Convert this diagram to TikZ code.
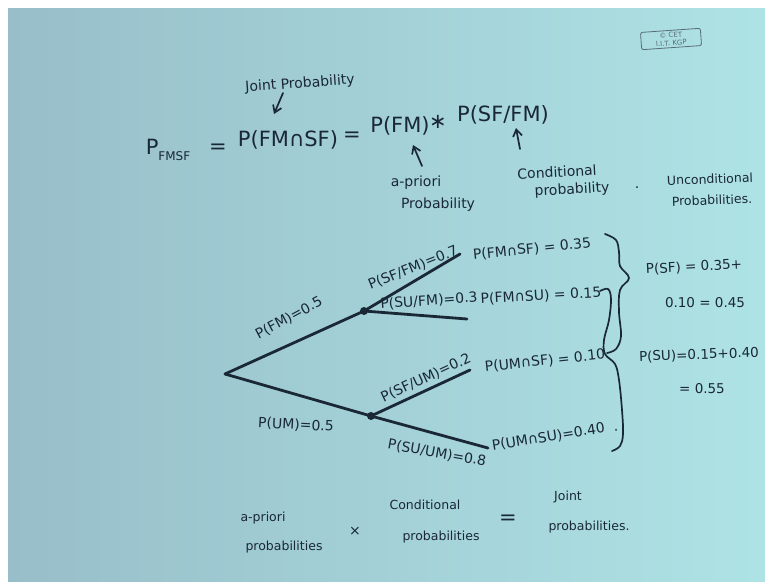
\documentclass[tikz,border=0pt]{standalone}
\usepackage{fontspec}
\setmainfont{DejaVu Sans}
\usetikzlibrary{arrows.meta,positioning}
\definecolor{ink}{RGB}{26,40,54}
\definecolor{boardl}{RGB}{152,190,201}
\definecolor{boardr}{RGB}{174,227,229}
\definecolor{stampgray}{RGB}{88,108,118}
\tikzset{
  >={Straight Barb[length=2.4mm,width=3.2mm]},
  eqn/.style={text=ink,font=\fontsize{21}{23}\selectfont,inner sep=1pt},
  blbl/.style={text=ink,font=\fontsize{14}{15}\selectfont,inner sep=1pt},
  sumlbl/.style={text=ink,font=\fontsize{13.5}{15}\selectfont,inner sep=1pt},
  note/.style={text=ink,font=\fontsize{14}{15}\selectfont,inner sep=1pt},
  smallnote/.style={text=ink,font=\fontsize{12.5}{14}\selectfont,inner sep=1pt},
  branch/.style={draw=ink,line width=2.8pt,line cap=round,line join=round},
  jdot/.style={circle,fill=ink,minimum size=8pt,inner sep=0pt},
  pen/.style={draw=ink,line width=1.7pt,line cap=round,line join=round},
  ptr/.style={pen,->},
  stamp/.style={draw=stampgray,rounded corners=2pt,line width=0.8pt,
    text=stampgray,font=\fontsize{7}{8}\selectfont,align=center,
    inner sep=2pt,minimum width=60pt},
}

\begin{document}
\begin{tikzpicture}[x=1pt,y=-1pt]
  % board
  \useasboundingbox (0,0) rectangle (765,581);
  \fill[white] (0,0) rectangle (765,581);
  \fill[left color=boardl,right color=boardr] (8,8) rectangle (765,581);
  \node[stamp,rotate=4] (cet) at (671,39) {\copyright\ CET\\I.I.T. KGP};

  % equation on top
  \node[note,rotate=4] (jnt) at (300,84) {Joint Probability};
  \node[eqn] (pfmsf) at (168,150) {P\raisebox{-6pt}{\fontsize{12}{12}\selectfont FMSF}};
  \node[eqn] (eqa) at (218,149) {=};
  \node[eqn] (pjoint) at (288,140) {P(FM∩SF)};
  \node[eqn] (eqb) at (352,137) {=};
  \node[eqn] (papr) at (400,126) {P(FM)};
  \node[eqn] (star) at (438,122) {∗};
  \node[eqn] (pcond) at (503,115) {P(SF/FM)};
  \coordinate (jtail) at (283,93);
  \coordinate (jtip) at (274,114);
  \draw[ptr] (jtail) -- (jtip);

  \node[note] (apa) at (416,183) {a-priori};
  \node[note] (apb) at (438,205) {Probability};
  \coordinate (aptail) at (422,166);
  \coordinate (aptip) at (413,145);
  \draw[ptr] (aptail) -- (aptip);

  \node[note,rotate=3] (cda) at (557,172) {Conditional};
  \node[note,rotate=3] (cdb) at (572,190) {probability};
  \node[note] (cdot) at (637,188) {.};
  \coordinate (cdtail) at (520,149);
  \coordinate (cdtip) at (516,128);
  \draw[ptr] (cdtail) -- (cdtip);

  \node[smallnote,rotate=2] (unca) at (710,179) {Unconditional};
  \node[smallnote,rotate=2] (uncb) at (712,200) {Probabilities.};

  % tree
  \coordinate (root) at (225,374);
  \node[jdot] (fm) at (364,311) {};
  \node[jdot] (um) at (371,416) {};
  \coordinate (fmsf) at (460,254);
  \coordinate (fmsu) at (467,319);
  \coordinate (umsf) at (470,370);
  \coordinate (umsu) at (488,448);
  \draw[branch] (root) -- (fm.center) -- (fmsf);
  \draw[branch] (fm.center) -- (fmsu);
  \draw[branch] (root) -- (um.center) -- (umsu);
  \draw[branch] (um.center) -- (umsf);

  \node[blbl,rotate=28] (lfm) at (289,318) {P(FM)=0.5};
  \node[blbl,rotate=22] (lsffm) at (413,268) {P(SF/FM)=0.7};
  \node[blbl,rotate=4] (lsufm) at (429,301) {P(SU/FM)=0.3};
  \node[blbl,rotate=25] (lsfum) at (426,378) {P(SF/UM)=0.2};
  \node[blbl,rotate=-3] (lum) at (296,425) {P(UM)=0.5};
  \node[blbl,rotate=-10] (lsuum) at (437,453) {P(SU/UM)=0.8};

  \node[blbl,rotate=6] (jfmsf) at (532,249) {P(FM∩SF) = 0.35};
  \node[blbl,rotate=3] (jfmsu) at (541,296) {P(FM∩SU) = 0.15};
  \node[blbl,rotate=6] (jumsf) at (545,361) {P(UM∩SF) = 0.10};
  \node[blbl,rotate=9] (jumsu) at (555,436) {P(UM∩SU)=0.40\ \ .};

  % braces and sums
  \draw[pen] plot[smooth,tension=0.6] coordinates {(605,234) (616,240)
    (619,252) (620,266) (629,278) (620,290) (619,312) (621,336) (616,349)
    (607,353)};
  \draw[pen] plot[smooth,tension=0.6] coordinates {(600,291) (608,289)
    (611,299) (609,320) (604,340) (605,354) (615,364) (619,380) (622,410)
    (623,434) (620,446) (612,451)};
  \node[sumlbl,rotate=3] (psf) at (694,267) {P(SF) = 0.35+};
  \node[sumlbl] (psfb) at (705,303) {0.10 = 0.45};
  \node[sumlbl,rotate=2] (psu) at (699,355) {P(SU)=0.15+0.40};
  \node[sumlbl] (psub) at (702,389) {= 0.55};

  % bottom line
  \node[smallnote] (bapa) at (263,518) {a-priori};
  \node[smallnote] (bapb) at (284,547) {probabilities};
  \node[note] (btimes) at (355,531) {×};
  \node[smallnote] (bcda) at (425,505) {Conditional};
  \node[smallnote] (bcdb) at (441,537) {probabilities};
  \node[eqn] (beq) at (508,520) {=};
  \node[smallnote] (bjta) at (568,497) {Joint};
  \node[smallnote] (bjtb) at (589,527) {probabilities.};
\end{tikzpicture}
\end{document}
